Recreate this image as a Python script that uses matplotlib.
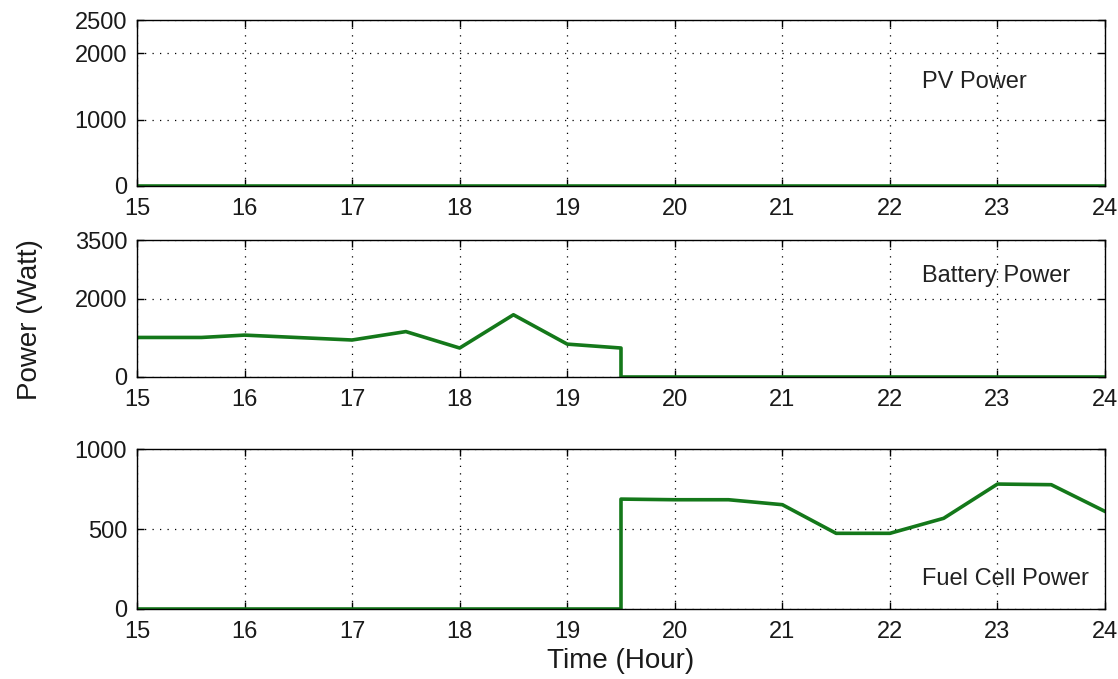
import matplotlib
matplotlib.use("Agg")
import matplotlib.pyplot as plt

plt.rcParams['font.family'] = ['Liberation Sans', 'DejaVu Sans']

# hourly power data, 15:00 to 24:00
pv_time = [15, 24]
pv_power = [0, 0]

bat_time = [15, 15.6, 16, 17, 17.5, 18, 18.5, 19, 19.5, 19.5, 24]
bat_power = [1010, 1010, 1070, 945, 1160, 740, 1590, 840, 740, 0, 0]

fc_time = [15, 19.5, 19.5, 20, 20.5, 21, 21.5, 22, 22.5, 23, 23.5, 24]
fc_power = [0, 0, 687, 683, 683, 652, 473, 473, 567, 781, 777, 610]

hours = list(range(15, 25))

panels = [
    (pv_time, pv_power, (0, 2500), [0, 1000, 2000, 2500], "PV Power", 1570),
    (bat_time, bat_power, (0, 3500), [0, 2000, 3500], "Battery Power", 2590),
    (fc_time, fc_power, (0, 1000), [0, 500, 1000], "Fuel Cell Power", 188),
]
boxes = [
    [0.1225, 0.7261, 0.8659, 0.2444],
    [0.1225, 0.4448, 0.8659, 0.2017],
    [0.1225, 0.1031, 0.8659, 0.2356],
]

fig = plt.figure(figsize=(11.18, 6.79), dpi=100)
green = '#14781a'

for (t, p, ylim, yt, name, ty), box in zip(panels, boxes):
    ax = fig.add_axes(box)
    ax.plot(t, p, color=green, lw=2.6)
    ax.set_xlim(15, 24)
    ax.set_ylim(*ylim)
    ax.set_xticks(hours)
    ax.set_yticks(yt)
    ax.grid(True, color='black', linestyle=(0, (1, 5)), linewidth=0.9)
    ax.tick_params(direction='in', length=5, width=1, top=True, right=True,
                   labelsize=17, labelcolor='#1a1a1a')
    ax.tick_params(axis='x', pad=9)
    ax.tick_params(axis='y', pad=7)
    for s in ax.spines.values():
        s.set_linewidth(1.0)
    ax.text(22.3, ty, name, fontsize=17, ha='left', va='center', color='#222222')

ax.set_xlabel("Time (Hour)", fontsize=20, labelpad=3, color='#1a1a1a')
fig.text(0.027, 0.53, "Power (Watt)", rotation=90, fontsize=20,
         ha='center', va='center', color='#1a1a1a')

fig.savefig("out.png", dpi=100)
